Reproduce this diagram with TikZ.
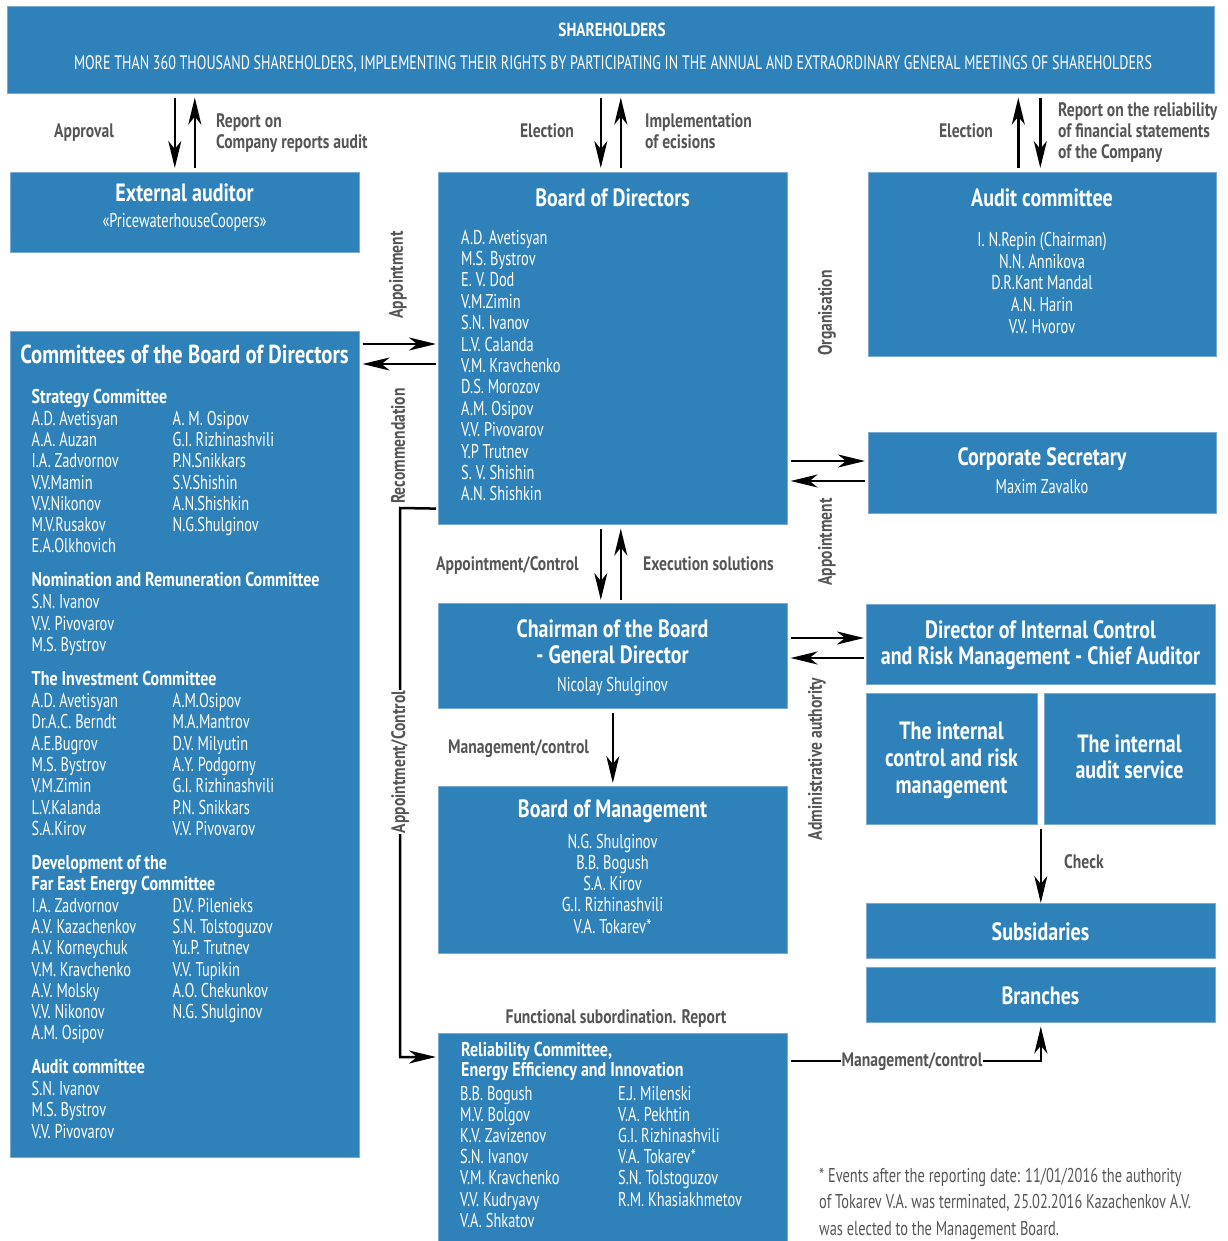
\documentclass[tikz,border=0pt]{standalone}
\usepackage{fontspec}
\setmainfont{PT Sans}[FakeStretch=0.72, BoldFeatures={FakeStretch=0.8}]
\usetikzlibrary{arrows.meta,calc}
\definecolor{cblue}{RGB}{46,130,185}
\definecolor{cedge}{RGB}{120,170,210}
\definecolor{cgrey}{RGB}{85,85,85}
\newcommand\nlist[2][l]{\begin{tabular}[t]{@{}#1@{}}#2\end{tabular}}
\newcommand\fs[2]{\fontsize{#1}{#2}\selectfont}
\tikzset{
  box/.style={fill=cblue, draw=cedge, line width=0.6pt, anchor=north west, inner sep=0pt, minimum width=#1},
  ttl/.style={font=\fs{25}{28}\bfseries, text=white, anchor=base, inner sep=0pt},
  sttl/.style={font=\fs{25}{26.7}\bfseries, text=white, anchor=base, inner sep=0pt},
  nms/.style={font=\fs{20}{21.3}, text=white, anchor=base west, inner sep=0pt},
  nmc/.style={font=\fs{20}{21.4}, text=white, anchor=base, inner sep=0pt},
  lbl/.style={font=\fs{19.5}{21}\bfseries, text=cgrey, inner sep=0pt},
  arr/.style={line width=2.5pt, -{Stealth[length=27pt,width=13pt,inset=8pt]}},
  ln/.style={line width=2.5pt},
}
\begin{document}
\begin{tikzpicture}[x=1pt,y=-1pt]
\useasboundingbox (0,0) rectangle (1227,1241);
% ---------- boxes ----------
\node[box=1207pt, minimum height=87pt] (sh) at (7,6) {};
\node[box=349pt, minimum height=80pt] (ext) at (10,172) {};
\node[box=349pt, minimum height=352pt] (bod) at (438,172) {};
\node[box=348pt, minimum height=184pt] (aud) at (868,172) {};
\node[box=349pt, minimum height=826pt] (com) at (10,331) {};
\node[box=348pt, minimum height=81pt] (cs) at (868,432) {};
\node[box=349pt, minimum height=105pt] (ch) at (438,603) {};
\node[box=349pt, minimum height=80pt] (dir) at (866,604) {};
\node[box=171pt, minimum height=131pt] (ictl) at (866,693) {};
\node[box=171pt, minimum height=131pt] (iaud) at (1044,693) {};
\node[box=349pt, minimum height=167pt] (bom) at (438,786) {};
\node[box=349pt, minimum height=55pt] (subs) at (866,903) {};
\node[box=349pt, minimum height=55pt] (br) at (866,967) {};
\node[box=349pt, minimum height=210pt] (rel) at (438,1033) {};
% ---------- box texts ----------
\node[font=\fs{19}{20}\bfseries, text=white, anchor=base, inner sep=0pt] (shT) at (612,37) {SHAREHOLDERS};
\node[font=\fs{19.5}{20}, text=white, anchor=base, inner sep=0pt] (shS) at (613,70) {MORE THAN 360 THOUSAND SHAREHOLDERS, IMPLEMENTING THEIR RIGHTS BY PARTICIPATING IN THE ANNUAL AND EXTRAORDINARY GENERAL MEETINGS OF SHAREHOLDERS};
\node[ttl] (extT) at (184.5,202) {External auditor};
\node[font=\fs{20}{20}, text=white, anchor=base, inner sep=0pt] (extS) at (184.5,228) {«PricewaterhouseCoopers»};
\node[ttl] (bodT) at (612.5,207) {Board of Directors};
\node[nms, font=\fs{20}{21.4}] (bodN) at (461,244) {\nlist{A.D. Avetisyan\\M.S. Bystrov\\E. V. Dod\\V.M.Zimin\\S.N. Ivanov\\L.V. Calanda\\V.M. Kravchenko\\D.S. Morozov\\A.M. Osipov\\V.V. Pivovarov\\Y.P Trutnev\\S. V. Shishin\\A.N. Shishkin}};
\node[ttl] (audT) at (1042,207) {Audit committee};
\node[nmc, font=\fs{20}{21.5}] (audN) at (1042,247) {\nlist[c]{I. N.Repin (Chairman)\\N.N. Annikova\\D.R.Kant Mandal\\A.N. Harin\\V.V. Hvorov}};
\node[font=\fs{26}{26}\bfseries, text=white, anchor=base, inner sep=0pt] (comT) at (184.5,363) {Committees of the Board of Directors};
\node[nms] (comN) at (31.5,403) {\begin{tabular}[t]{@{}p{141pt}@{}l@{}}
\multicolumn{2}{@{}l@{}}{\bfseries Strategy Committee}\\[0.8pt]
A.D. Avetisyan & A. M. Osipov\\
A.A. Auzan & G.I. Rizhinashvili\\
I.A. Zadvornov & P.N.Snikkars\\
V.V.Mamin & S.V.Shishin\\
V.V.Nikonov & A.N.Shishkin\\
M.V.Rusakov & N.G.Shulginov\\
E.A.Olkhovich & \\[12.6pt]
\multicolumn{2}{@{}l@{}}{\bfseries Nomination and Remuneration Committee}\\[0.8pt]
S.N. Ivanov & \\
V.V. Pivovarov & \\
M.S. Bystrov & \\[12.6pt]
\multicolumn{2}{@{}l@{}}{\bfseries The Investment Committee}\\[0.8pt]
A.D. Avetisyan & A.M.Osipov\\
Dr.A.C. Berndt & M.A.Mantrov\\
A.E.Bugrov & D.V. Milyutin\\
M.S. Bystrov & A.Y. Podgorny\\
V.M.Zimin & G.I. Rizhinashvili\\
L.V.Kalanda & P.N. Snikkars\\
S.A.Kirov & V.V. Pivovarov\\[12.6pt]
\multicolumn{2}{@{}l@{}}{\bfseries Development of the}\\
\multicolumn{2}{@{}l@{}}{\bfseries Far East Energy Committee}\\[0.3pt]
I.A. Zadvornov & D.V. Pilenieks\\
A.V. Kazachenkov & S.N. Tolstoguzov\\
A.V. Korneychuk & Yu.P. Trutnev\\
V.M. Kravchenko & V.V. Tupikin\\
A.V. Molsky & A.O. Chekunkov\\
V.V. Nikonov & N.G. Shulginov\\
A.M. Osipov & \\[12.6pt]
\multicolumn{2}{@{}l@{}}{\bfseries Audit committee}\\[0.3pt]
S.N. Ivanov & \\
M.S. Bystrov & \\
V.V. Pivovarov &
\end{tabular}};
\node[ttl] (csT) at (1042,465) {Corporate Secretary};
\node[nmc] (csN) at (1042,493) {Maxim Zavalko};
\node[sttl] (chT) at (612.5,637) {\nlist[c]{Chairman of the Board\\- General Director}};
\node[nmc, font=\fs{20}{21}] (chN) at (612.5,691) {Nicolay Shulginov};
\node[sttl] (dirT) at (1040.5,638) {\nlist[c]{Director of Internal Control\\and Risk Management - Chief Auditor}};
\node[sttl, font=\fs{25}{27}\bfseries] (ictlT) at (951.5,739) {\nlist[c]{The internal\\control and risk\\management}};
\node[sttl, font=\fs{25}{26.5}\bfseries] (iaudT) at (1129.5,752) {\nlist[c]{The internal\\audit service}};
\node[ttl] (bomT) at (612.5,817) {Board of Management};
\node[nmc, font=\fs{20}{21.3}] (bomN) at (612.5,848) {\nlist[c]{N.G. Shulginov\\B.B. Bogush\\S.A. Kirov\\G.I. Rizhinashvili\\V.A. Tokarev*}};
\node[ttl] (subsT) at (1040.5,940) {Subsidaries};
\node[ttl] (brT) at (1040.5,1004) {Branches};
\node[nms, font=\fs{20}{20.5}\bfseries] (relT) at (461,1056) {\nlist{Reliability Committee,\\Energy Efficiency and Innovation}};
\node[nms, font=\fs{20}{21.2}] (relN) at (460,1100) {\begin{tabular}[t]{@{}p{158pt}@{}l@{}}
B.B. Bogush & E.J. Milenski\\
M.V. Bolgov & V.A. Pekhtin\\
K.V. Zavizenov & G.I. Rizhinashvili\\
S.N. Ivanov & V.A. Tokarev*\\
V.M. Kravchenko & S.N. Tolstoguzov\\
V.V. Kudryavy & R.M. Khasiakhmetov\\
V.A. Shkatov &
\end{tabular}};
% ---------- connectors ----------
% shareholders <-> external auditor
\draw[arr] ($(sh.south-|ext.north)+(-10,4)$) -- ($(ext.north)+(-10,-4)$);
\draw[arr] ($(ext.north)+(10,-4)$) -- ($(sh.south-|ext.north)+(10,4)$);
% shareholders <-> board of directors
\draw[arr] ($(sh.south-|bod.north)+(-12,4)$) -- ($(bod.north)+(-12,-4)$);
\draw[arr] ($(bod.north)+(8,-4)$) -- ($(sh.south-|bod.north)+(8,4)$);
% shareholders <-> audit committee
\draw[arr] ($(aud.north)+(-24,-4)$) -- ($(sh.south-|aud.north)+(-24,4)$);
\draw[arr] ($(sh.south-|aud.north)+(-2,4)$) -- ($(aud.north)+(-2,-4)$);
% committees <-> board of directors
\draw[arr] ($(com.north east)+(3,13)$) -- ($(com.north east-|bod.west)+(-2,13)$);
\draw[arr] ($(com.north east-|bod.west)+(-2,33)$) -- ($(com.north east)+(3,33)$);
% board of directors -> reliability committee
\coordinate (jl) at (400,508);
\draw[arr] ($(bod.south west)+(-2,-16)$) -- (jl) |- ($(rel.north west)+(-2,24)$);
% board <-> corporate secretary
\draw[arr] ($(cs.north west-|bod.east)+(3,29)$) -- ($(cs.north west)+(-3,29)$);
\draw[arr] ($(cs.north west)+(-3,49)$) -- ($(cs.north west-|bod.east)+(3,49)$);
% board <-> chairman
\draw[arr] ($(bod.south)+(-12,4)$) -- ($(ch.north)+(-12,-3)$);
\draw[arr] ($(ch.north)+(8,-3)$) -- ($(bod.south)+(8,4)$);
% chairman <-> director of internal control
\draw[arr] ($(ch.north east)+(3,35)$) -- ($(ch.north east-|dir.west)+(-2,35)$);
\draw[arr] ($(ch.north east-|dir.west)+(-2,55)$) -- ($(ch.north east)+(3,55)$);
% chairman -> board of management
\draw[arr] ($(ch.south)+(0,4)$) -- ($(bom.north)+(0,-3)$);
% internal units -> subsidaries
\coordinate (chk) at ($(ictl.south east)!0.5!(iaud.south west)+(0,4)$);
\draw[arr] (chk) -- (chk|-subs.north);
% reliability -> branches
\draw[arr] ($(rel.north east)+(3,28)$) -| ($(br.south)+(0,4)$);
% ---------- labels ----------
\node[lbl, anchor=base] (lApr) at (84,138) {Approval};
\node[lbl, anchor=base west] (lRep) at (216,128) {\nlist{Report on\\Company reports audit}};
\node[lbl, anchor=base] (lEl1) at (547,138) {Election};
\node[lbl, anchor=base west] (lImp) at (645,128) {\nlist{Implementation\\of ecisions}};
\node[lbl, anchor=base] (lEl2) at (966,138) {Election};
\node[lbl, anchor=base west] (lRel) at (1058,117) {\nlist{Report on the reliability\\of financial statements\\of the Company}};
\node[lbl, rotate=90] (lApp1) at (398,275) {Appointment};
\node[lbl, rotate=90] (lRec) at (398,446) {Recommendation};
\node[lbl, rotate=90, fill=white, inner sep=1pt] (lApC) at (400,762) {Appointment/Control};
\node[lbl, rotate=90] (lOrg) at (827,313) {Organisation};
\node[lbl, rotate=90] (lApp2) at (827,542) {Appointment};
\node[lbl, anchor=base west] (lAC) at (436,570) {Appointment/Control};
\node[lbl, anchor=base west] (lEx) at (643,570) {Execution solutions};
\node[lbl, rotate=90] (lAdm) at (817,759) {Administrative authority};
\node[lbl, anchor=base west] (lMC1) at (448,753) {Management/control};
\node[lbl, anchor=base west] (lChk) at (1064,868) {Check};
\node[lbl, anchor=base] (lFun) at (616,1023) {Functional subordination. Report};
\node[lbl, anchor=base, fill=white, inner sep=1pt] (lMC2) at (912,1066) {Management/control};
\node[font=\fs{20}{26.5}, text=cgrey, anchor=base west, inner sep=0pt] (foot) at (819,1182) {\nlist{* Events after the reporting date: 11/01/2016 the authority\\of Tokarev V.A. was terminated, 25.02.2016 Kazachenkov A.V.\\was elected to the Management Board.}};
\end{tikzpicture}
\end{document}
